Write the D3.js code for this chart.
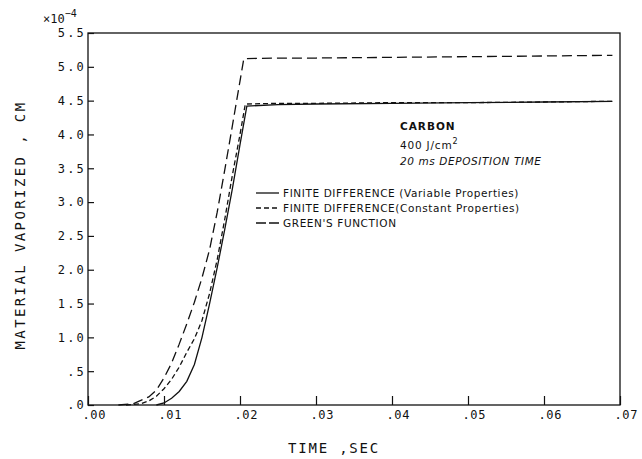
<!DOCTYPE html>
<html>
<head>
<meta charset="utf-8">
<script src="https://cdn.jsdelivr.net/npm/d3@7"></script>
<style>
  body { margin: 0; background: #fff; }
  svg { display: block; }
</style>
</head>
<body>
<svg id="chart" width="642" height="459"></svg>
<script>
// time (sec) and material vaporized (x 1e-4 cm)
const greensT = [0.004, 0.006, 0.008, 0.009, 0.010, 0.011, 0.012, 0.013, 0.014, 0.015, 0.016, 0.017, 0.018, 0.019, 0.020, 0.0205, 0.025, 0.030, 0.040, 0.050, 0.060, 0.069];
const greensV = [0.00, 0.02, 0.12, 0.22, 0.40, 0.62, 0.90, 1.20, 1.52, 1.88, 2.30, 2.85, 3.48, 4.13, 4.79, 5.12, 5.13, 5.13, 5.14, 5.15, 5.16, 5.17];

const constT = [0.005, 0.007, 0.008, 0.009, 0.010, 0.011, 0.012, 0.013, 0.014, 0.015, 0.016, 0.017, 0.018, 0.019, 0.020, 0.0207, 0.025, 0.030, 0.040, 0.050, 0.060, 0.069];
const constV = [0.00, 0.02, 0.06, 0.13, 0.24, 0.38, 0.56, 0.78, 0.98, 1.25, 1.65, 2.15, 2.75, 3.40, 4.00, 4.45, 4.46, 4.46, 4.47, 4.47, 4.48, 4.49];

const varT = [0.009, 0.010, 0.011, 0.012, 0.013, 0.014, 0.015, 0.016, 0.017, 0.018, 0.019, 0.020, 0.0209, 0.025, 0.030, 0.040, 0.050, 0.060, 0.069];
const varV = [0.00, 0.03, 0.10, 0.20, 0.35, 0.60, 1.00, 1.50, 2.03, 2.60, 3.20, 3.85, 4.42, 4.44, 4.45, 4.46, 4.47, 4.48, 4.49];

const xTicks = [0, 0.01, 0.02, 0.03, 0.04, 0.05, 0.06, 0.07];
const yTicks = [0, 0.5, 1.0, 1.5, 2.0, 2.5, 3.0, 3.5, 4.0, 4.5, 5.0, 5.5];

const legendNames = ["FINITE DIFFERENCE (Variable Properties)", "FINITE DIFFERENCE(Constant Properties)", "GREEN'S FUNCTION"];

const svg = d3.select("#chart");
const plotL = 88, plotR = 620, plotT = 33, plotB = 405;

const x = d3.scaleLinear().domain([0, 0.07]).range([plotL, plotR]);
const y = d3.scaleLinear().domain([0, 5.5]).range([plotB, plotT]);

const mono = "'DejaVu Sans Mono', monospace";
const sans = "'DejaVu Sans', sans-serif";

// frame
svg.append("rect")
  .attr("x", plotL).attr("y", plotT)
  .attr("width", plotR - plotL).attr("height", plotB - plotT)
  .attr("fill", "none").attr("stroke", "#111").attr("stroke-width", 1.3);

// y axis, ticks pointing in
const yAxis = svg.append("g")
  .attr("transform", `translate(${plotL},0)`)
  .call(d3.axisLeft(y).tickValues(yTicks).tickSize(-6).tickSizeOuter(0).tickPadding(2)
    .tickFormat(d => d3.format(".1f")(d).replace(/^0/, "")));
yAxis.select(".domain").remove();
yAxis.selectAll("line").attr("stroke", "#111").attr("stroke-width", 1.2);
yAxis.selectAll("text")
  .attr("font-family", mono).attr("font-size", 12).attr("letter-spacing", 2.2)
  .attr("fill", "#111");

// x axis, ticks pointing up
const xAxis = svg.append("g")
  .attr("transform", `translate(0,${plotB})`)
  .call(d3.axisBottom(x).tickValues(xTicks).tickSize(-9).tickSizeOuter(0).tickPadding(5)
    .tickFormat(d => d3.format(".2f")(d).replace(/^0/, "")));
xAxis.select(".domain").remove();
xAxis.selectAll("line").attr("stroke", "#111").attr("stroke-width", 1.2);
xAxis.selectAll("text")
  .attr("font-family", mono).attr("font-size", 12).attr("letter-spacing", 0.6)
  .attr("text-anchor", "start").attr("x", -6)
  .attr("fill", "#111");

// exponent above the y axis
const expo = svg.append("text")
  .attr("x", 43).attr("y", 23)
  .attr("font-family", mono).attr("font-size", 12).attr("fill", "#111")
  .text("×10");
expo.append("tspan").attr("dy", -6).attr("font-size", 10).text("−4");

// axis titles
svg.append("text")
  .attr("transform", "translate(25,225) rotate(-90)")
  .attr("text-anchor", "middle")
  .attr("font-family", mono).attr("font-size", 14).attr("letter-spacing", 2.4)
  .attr("fill", "#111")
  .text("MATERIAL VAPORIZED , CM");

svg.append("text")
  .attr("x", 288).attr("y", 453)
  .attr("font-family", mono).attr("font-size", 14).attr("letter-spacing", 1.8)
  .attr("fill", "#111")
  .text("TIME ,SEC");

// curves
const line = d3.line().x(d => x(d[0])).y(d => y(d[1]));
const series = [
  { t: varT, v: varV, dash: null },
  { t: constT, v: constV, dash: "5,3" },
  { t: greensT, v: greensV, dash: "10,5" }
];
series.forEach(s => {
  svg.append("path")
    .datum(d3.zip(s.t, s.v))
    .attr("d", line)
    .attr("fill", "none")
    .attr("stroke", "#111")
    .attr("stroke-width", 1.3)
    .attr("stroke-dasharray", s.dash);
});

// annotation
const note = svg.append("g").attr("font-family", sans).attr("fill", "#111").attr("font-size", 10.5);
note.append("text").attr("x", 400).attr("y", 130).attr("letter-spacing", 1).attr("font-weight", 600).text("CARBON");
const l2 = note.append("text").attr("x", 400).attr("y", 149).attr("letter-spacing", 0.8);
l2.append("tspan").text("400  J/cm");
l2.append("tspan").attr("dy", -5).attr("font-size", 8).text("2");
note.append("text").attr("x", 400).attr("y", 165).attr("letter-spacing", 0.6)
  .attr("font-style", "italic").text("20 ms DEPOSITION TIME");

// legend
const legendY = [193, 208, 223];
series.forEach((s, i) => {
  svg.append("line")
    .attr("x1", 256).attr("x2", 279)
    .attr("y1", legendY[i]).attr("y2", legendY[i])
    .attr("stroke", "#111").attr("stroke-width", 1.3)
    .attr("stroke-dasharray", s.dash ? (i === 1 ? "5,3" : "10,3") : null);
  svg.append("text")
    .attr("x", 283).attr("y", legendY[i] + 4)
    .attr("font-family", sans).attr("font-size", 10.5).attr("letter-spacing", 0.6)
    .attr("fill", "#111")
    .text(legendNames[i]);
});
</script>
</body>
</html>
